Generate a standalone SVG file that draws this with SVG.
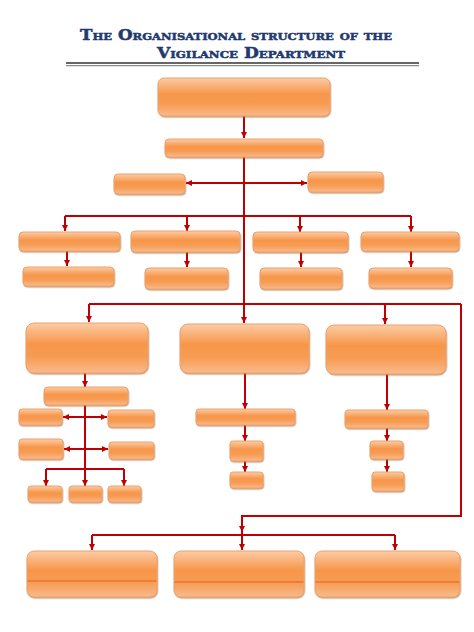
<svg xmlns="http://www.w3.org/2000/svg" width="474" height="632" viewBox="0 0 474 632">
<style>
.t{font-family:"DejaVu Serif","Liberation Serif",serif;font-weight:bold;font-variant:small-caps;fill:#1F3A6E;stroke:#1F3A6E;stroke-width:0.5;font-size:14.5px}
.n{fill:url(#g);stroke:#E9A26C;stroke-width:1;filter:url(#sh)}
.c line,.c path{stroke:#C00000;stroke-width:2;fill:none}
.a{marker-end:url(#ah)}
.d{marker-start:url(#as);marker-end:url(#ah)}
.div{stroke:#E0601E;stroke-width:1.2}
</style>
<defs>
<linearGradient id="g" x1="0" y1="0" x2="0" y2="1">
<stop offset="0" stop-color="#FCCCA6"/>
<stop offset="0.42" stop-color="#F7964A"/>
<stop offset="0.68" stop-color="#F79C54"/>
<stop offset="1" stop-color="#F9BA8C"/>
</linearGradient>
<filter id="sh" x="-10%" y="-10%" width="120%" height="130%">
<feDropShadow dx="0.6" dy="1.2" stdDeviation="0.6" flood-color="#B0602A" flood-opacity="0.6"/>
</filter>
<marker id="ah" markerWidth="6" markerHeight="6" refX="6" refY="3" orient="auto" markerUnits="userSpaceOnUse">
<path d="M0,0 L6,3 L0,6 z" fill="#C00000"/>
</marker>
<marker id="as" markerWidth="6" markerHeight="6" refX="0" refY="3" orient="auto" markerUnits="userSpaceOnUse">
<path d="M6,0 L0,3 L6,6 z" fill="#C00000"/>
</marker>
</defs>
<rect width="474" height="632" fill="#FFFFFF"/>
<g id="title">
<text class="t" x="80" y="40" textLength="312" lengthAdjust="spacingAndGlyphs">The Organisational structure of the</text>
<text class="t" x="157" y="57.5" textLength="188" lengthAdjust="spacingAndGlyphs">Vigilance Department</text>
<line x1="66" y1="63" x2="419" y2="63" stroke="#333333" stroke-width="1.6"/>
<line x1="66" y1="65.6" x2="419" y2="65.6" stroke="#8A8A8A" stroke-width="1.4"/>
</g>
<g id="connectors" class="c">
<line class="a" x1="244" y1="116" x2="244" y2="138"/>
<line x1="244" y1="157" x2="244" y2="304"/>
<line class="d" x1="186" y1="183" x2="307" y2="183"/>
<line x1="65" y1="216" x2="411" y2="216"/>
<line class="a" x1="65" y1="216" x2="65" y2="231"/>
<line class="a" x1="187" y1="216" x2="187" y2="231"/>
<line class="a" x1="300" y1="216" x2="300" y2="232"/>
<line class="a" x1="411" y1="216" x2="411" y2="232"/>
<line class="a" x1="67" y1="251" x2="67" y2="266"/>
<line class="a" x1="187" y1="252" x2="187" y2="267"/>
<line class="a" x1="301" y1="252" x2="301" y2="267"/>
<line class="a" x1="411" y1="251" x2="411" y2="267"/>
<line x1="89" y1="304" x2="461" y2="304"/>
<line class="a" x1="89" y1="304" x2="89" y2="322"/>
<line class="a" x1="244" y1="304" x2="244" y2="323"/>
<line class="a" x1="385" y1="304" x2="385" y2="324"/>
<path class="a" d="M461,304 V516 H242 V532"/>
<line x1="92" y1="535" x2="395" y2="535"/>
<line class="a" x1="92" y1="535" x2="92" y2="550"/>
<line class="a" x1="242" y1="532" x2="242" y2="550"/>
<line class="a" x1="395" y1="535" x2="395" y2="550"/>
<line class="a" x1="85" y1="373" x2="85" y2="387"/>
<line x1="85" y1="405" x2="85" y2="469"/>
<line class="d" x1="63" y1="417" x2="107" y2="417"/>
<line class="d" x1="64" y1="449" x2="108" y2="449"/>
<line x1="46" y1="469" x2="124" y2="469"/>
<line class="a" x1="46" y1="469" x2="46" y2="486"/>
<line class="a" x1="85" y1="469" x2="85" y2="486"/>
<line class="a" x1="124" y1="469" x2="124" y2="486"/>
<line class="a" x1="245" y1="373" x2="245" y2="409"/>
<line class="a" x1="245" y1="425" x2="245" y2="441"/>
<line class="a" x1="245" y1="461" x2="245" y2="472"/>
<line class="a" x1="387" y1="374" x2="387" y2="410"/>
<line class="a" x1="387" y1="428" x2="387" y2="441"/>
<line class="a" x1="387" y1="459" x2="387" y2="472"/>
</g>
<g id="n-top"><rect class="n" x="158" y="78" width="172" height="38" rx="6"/></g>
<g id="n-second"><rect class="n" x="165" y="139" width="158" height="18" rx="4"/></g>
<g id="n-side-left"><rect class="n" x="114" y="174" width="71" height="20" rx="4"/></g>
<g id="n-side-right"><rect class="n" x="308" y="172" width="75" height="20" rx="4"/></g>
<g id="n-r1a"><rect class="n" x="19" y="232" width="101" height="19" rx="4"/></g>
<g id="n-r1b"><rect class="n" x="131" y="231" width="109" height="21" rx="4"/></g>
<g id="n-r1c"><rect class="n" x="253" y="232" width="95" height="20" rx="4"/></g>
<g id="n-r1d"><rect class="n" x="361" y="232" width="98" height="19" rx="4"/></g>
<g id="n-r2a"><rect class="n" x="23" y="267" width="91" height="19" rx="4"/></g>
<g id="n-r2b"><rect class="n" x="145" y="268" width="83" height="21" rx="4"/></g>
<g id="n-r2c"><rect class="n" x="260" y="268" width="82" height="21" rx="4"/></g>
<g id="n-r2d"><rect class="n" x="369" y="268" width="83" height="20" rx="4"/></g>
<g id="n-big-left"><rect class="n" x="26" y="323" width="122" height="50" rx="8"/></g>
<g id="n-big-mid"><rect class="n" x="180" y="324" width="129" height="49" rx="8"/></g>
<g id="n-big-right"><rect class="n" x="326" y="325" width="120" height="49" rx="8"/></g>
<g id="n-l1"><rect class="n" x="44" y="387" width="84" height="18" rx="4"/></g>
<g id="n-l2a"><rect class="n" x="19" y="409" width="43" height="16" rx="3"/></g>
<g id="n-l2b"><rect class="n" x="108" y="410" width="46" height="17" rx="3"/></g>
<g id="n-l3a"><rect class="n" x="19" y="439" width="44" height="20" rx="3"/></g>
<g id="n-l3b"><rect class="n" x="109" y="442" width="45" height="17" rx="3"/></g>
<g id="n-l4a"><rect class="n" x="28" y="486" width="34" height="16" rx="3"/></g>
<g id="n-l4b"><rect class="n" x="69" y="486" width="33" height="16" rx="3"/></g>
<g id="n-l4c"><rect class="n" x="108" y="486" width="33" height="16" rx="3"/></g>
<g id="n-m1"><rect class="n" x="196" y="409" width="99" height="16" rx="3"/></g>
<g id="n-m2"><rect class="n" x="230" y="441" width="33" height="20" rx="3"/></g>
<g id="n-m3"><rect class="n" x="230" y="472" width="33" height="16" rx="3"/></g>
<g id="n-rr1"><rect class="n" x="345" y="410" width="83" height="18" rx="3"/></g>
<g id="n-rr2"><rect class="n" x="370" y="441" width="33" height="18" rx="3"/></g>
<g id="n-rr3"><rect class="n" x="372" y="472" width="32" height="19" rx="3"/></g>
<g id="n-bottom-left"><rect class="n" x="27" y="551" width="130" height="46" rx="7"/><line class="div" x1="27.5" y1="581" x2="156.5" y2="581"/></g>
<g id="n-bottom-mid"><rect class="n" x="174" y="551" width="130" height="46" rx="7"/><line class="div" x1="174.5" y1="582" x2="303.5" y2="582"/></g>
<g id="n-bottom-right"><rect class="n" x="315" y="551" width="145" height="46" rx="7"/><line class="div" x1="315.5" y1="582" x2="459.5" y2="582"/></g>
</svg>
